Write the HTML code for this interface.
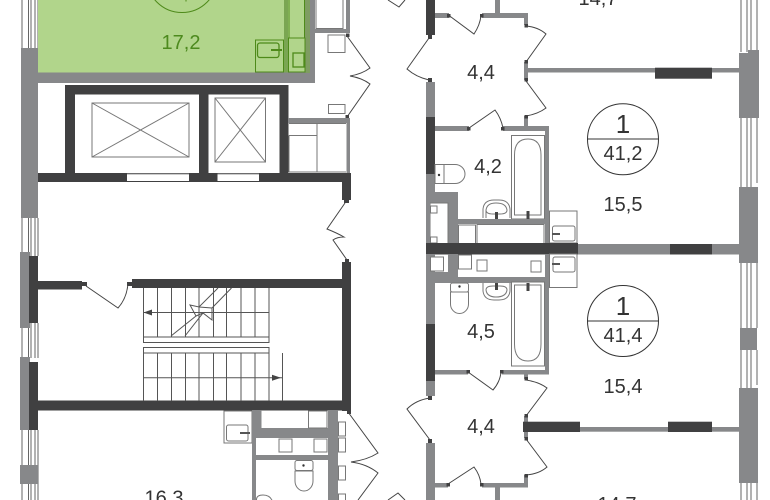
<!DOCTYPE html>
<html><head><meta charset="utf-8"><style>
html,body{margin:0;padding:0;background:#fff;width:770px;height:500px;overflow:hidden}
svg{display:block}
text{font-family:"Liberation Sans",sans-serif;font-size:20px;fill:#333;text-anchor:middle}
.g{fill:#87888a}.d{fill:#404041}
.l{fill:none;stroke:#444;stroke-width:1}
.w{fill:#fff;stroke:#777;stroke-width:1}
.t{fill:none;stroke:#777;stroke-width:1}
.gl{fill:none;stroke:#4e8a1a;stroke-width:1}
</style></head><body>
<svg width="770" height="500" viewBox="0 0 770 500" xmlns="http://www.w3.org/2000/svg">
<!-- left windows -->
<g stroke="#666" stroke-width="1">
<path d="M22 0V48M28.5 0V48M31 0V48M35 0V48M38 0V48"/>
<path d="M22 218V256M28.5 218V256M31 218V256M35 218V256M38 218V256"/>
<path d="M22 323V358M28.5 323V358M31 323V358M35 323V358M38 323V358"/>
<path d="M22 430V500M28.5 430V500M31 430V500M35 430V500M38 430V500"/>
</g>
<!-- right windows -->
<g stroke="#666" stroke-width="1">
<path d="M741 0V52M747 0V52M751 0V52M757 0V52"/>
<path d="M741 117V187M747 117V187M751 117V187M757 117V183"/>
<path d="M741 263V328M747 263V328M751 263V328M757 263V328"/>
<path d="M741 350V388M747 350V388M751 350V388M757 350V385"/>
<path d="M741 483V500M747 483V500M751 483V500M757 483V500"/>
</g>
<!-- left piers -->
<rect class="g" x="21" y="48" width="17" height="170"/>
<rect class="g" x="20" y="252" width="10" height="76"/>
<rect class="d" x="29" y="256" width="9" height="67"/>
<rect class="g" x="20" y="357" width="10" height="73"/>
<rect class="d" x="29" y="362" width="9" height="68"/>
<rect class="g" x="20" y="465" width="18" height="19"/>
<!-- right piers -->
<rect class="g" x="739" y="53" width="15" height="65"/><rect class="g" x="748" y="50" width="11" height="68"/>
<rect class="g" x="739" y="187" width="19" height="76"/>
<rect class="g" x="740" y="328" width="17" height="22"/>
<rect class="g" x="739" y="388" width="19" height="95"/>
<!-- green apartment -->
<rect x="38" y="0" width="267" height="72.5" fill="#b1d58b"/>
<rect x="38" y="72.5" width="277" height="10.5" class="g"/>
<rect x="310" y="0" width="5" height="83" class="g"/>
<rect x="305" y="0" width="5" height="73" fill="#7f9c62"/>
<rect x="284" y="0" width="4" height="72.5" fill="#7aa652"/>
<g class="gl">
<rect x="289" y="-2" width="15.500" height="40"/>
<rect x="288.500" y="38" width="16.500" height="34"/>
<rect x="293" y="53" width="11" height="14" stroke-width="1.300"/>
<rect x="255.500" y="40" width="28" height="32"/>
<rect x="257.500" y="43" width="21.500" height="14.500" rx="2.500" stroke-width="1.300"/>
<circle cx="182" cy="-23" r="35.500"/>
</g>
<path d="M271 50H282" stroke="#4e8a1a" stroke-width="2"/>
<path d="M186 0V1.500" stroke="#4e8a1a" stroke-width="1"/>
<text x="181" y="49" style="fill:#4d8a1e">17,2</text>
<!-- shaft top right -->
<rect class="g" x="315" y="29" width="35" height="4"/>
<rect class="g" x="346" y="0" width="4" height="33"/>
<rect class="w" x="316" y="-2" width="27" height="30.500" stroke-width="1.200"/>
<rect class="w" x="328" y="35" width="17" height="17.500"/>
<rect class="w" x="328.500" y="104.500" width="16.500" height="9"/>
<rect class="d" x="346" y="33.500" width="3.500" height="3.500"/>
<rect class="d" x="345.500" y="115" width="3.500" height="3.500"/>
<path class="l" d="M347 36L370 68Q362 74 350 76Q362 78 370 84L347 117"/>
<!-- lift shafts -->
<rect class="d" x="65" y="85" width="223" height="9.500"/>
<rect class="d" x="65" y="85" width="10" height="97"/>
<rect class="d" x="199" y="85" width="9.500" height="97"/>
<rect class="d" x="279.500" y="85" width="9" height="97"/>
<rect class="d" x="38" y="173" width="313" height="9"/>
<rect class="d" x="342" y="173" width="9" height="27"/>
<rect class="d" x="344" y="199" width="5" height="4"/>
<rect x="127" y="174" width="62" height="7" fill="#fff"/>
<rect x="217.500" y="174" width="41.500" height="7" fill="#fff"/>
<path d="M127 174H189M217.500 174H259" stroke="#999" stroke-width="1"/>
<g class="t" stroke="#666">
<rect x="92" y="103" width="97" height="54"/><path d="M92 103L189 157M189 103L92 157"/>
<rect x="215" y="98" width="50.500" height="64"/><path d="M215 98L265.500 162M265.500 98L215 162"/>
</g>
<!-- closet -->
<rect class="g" x="288" y="118" width="62" height="5"/>
<rect class="g" x="346.500" y="118" width="3.500" height="55"/>
<path class="t" d="M289 123.500H346M289 135.500H317M317 123.500V172M289 172H346M289 135.500V172"/>
<!-- door -->
<path class="l" d="M345 203L327 229Q337 233 344 237Q337 237 333 240L347 260"/>
<!-- stair hall walls -->
<rect class="d" x="132" y="279" width="215" height="9"/>
<rect class="d" x="38" y="281" width="44" height="8.500"/>
<rect class="d" x="82" y="282" width="5" height="4"/>
<rect class="d" x="127" y="282" width="5" height="4"/>
<rect class="d" x="342" y="262" width="9" height="149"/>
<rect class="d" x="345" y="259" width="4" height="4"/>
<rect class="d" x="29" y="400.500" width="322" height="10"/>
<rect class="d" x="347" y="410" width="4" height="4"/>
<path class="l" d="M86 286L118 308Q127 298 128 283"/>
<!-- stairs -->
<g stroke="#555" stroke-width="1" fill="none">
<path d="M143.500 288V337M157.500 288V337M171.500 288V337M185.500 288V337M199 288V337M213.500 288V337M226.500 288V337M241 288V337M255 288V337M269 288V337M143.500 312.500H269"/>
<rect x="143.500" y="337" width="125.500" height="5.500"/>
<rect x="143.500" y="347.500" width="125.500" height="5.500"/>
<path d="M143.500 353V401M157.500 353V401M171.500 353V401M185.500 353V401M199 353V401M213.500 353V401M226.500 353V401M241 353V401M255 353V401M269 353V401M143.500 377.700H282M282.500 353V401"/>
<path d="M218 288L199 307L190 305L196 316L171 336" />
<path d="M231.500 288L212 308L212 320L203 313L185 336"/>
<path d="M199 307L212 308M196 316L203 313" fill="#fff"/>
</g>
<path d="M143.500 312.500L152 309.500V315.500Z" fill="#444"/>
<path d="M281 377.700L272 374.700V380.700Z" fill="#444"/>
<!-- lower left wet unit -->
<rect class="t" x="224" y="411" width="28" height="32"/>
<rect class="t" x="226.500" y="425" width="21.500" height="16" rx="2"/>
<path d="M240 433H250" stroke="#555" stroke-width="2"/>
<rect class="g" x="252" y="410" width="9.500" height="28"/>
<rect class="g" x="252" y="438" width="4" height="62"/>
<rect class="g" x="328" y="410" width="10" height="90"/>
<rect class="g" x="252" y="428" width="76" height="10"/>
<rect class="g" x="256" y="455" width="72" height="5"/>
<g class="w" stroke="#666">
<rect x="308.500" y="411" width="18.500" height="17"/>
<rect x="279" y="439" width="13" height="13"/>
<rect x="314" y="439" width="13" height="13"/>
<rect x="338.500" y="422" width="7" height="14"/>
<rect x="338.500" y="438" width="7" height="14"/>
<rect x="338.500" y="466" width="7" height="14"/>
<rect x="338.500" y="494" width="7" height="10"/>
<rect x="295" y="460.500" width="18" height="10" rx="2"/>
<path d="M295 471H313V481A9 10 0 0 1 295 481Z"/>
<path d="M256.500 510V499Q257 495 263 495Q271 495 273 503"/>
</g>
<circle cx="303.500" cy="465.500" r="1.200" fill="#333"/>
<path class="l" d="M348 412L378 453Q367 460 351 462Q367 464 378 473L358 500"/>
<text x="164" y="504.500">16,3</text>
<!-- central corridor doors -->
<path class="l" d="M388 0L399 7L405 0"/>
<path class="l" d="M388 500L398 493L405 500"/>
<!-- central walls top -->
<rect class="d" x="426" y="0" width="9" height="35"/>
<rect class="d" x="428" y="35" width="4" height="4"/>
<rect class="g" x="426" y="82" width="9" height="35"/>
<rect class="d" x="428" y="78" width="4" height="4"/>
<rect class="d" x="426" y="117" width="9" height="57"/>
<rect class="g" x="426" y="174" width="9" height="70"/>
<rect class="g" x="435" y="13" width="14" height="5"/>
<rect class="g" x="482" y="13" width="46" height="5"/>
<rect class="g" x="495" y="0" width="5" height="13"/>
<rect class="g" x="524" y="13" width="4" height="12"/>
<rect class="d" x="447" y="14" width="3.500" height="3.500"/>
<rect class="d" x="480" y="14" width="3.500" height="3.500"/>
<rect class="d" x="524.500" y="24" width="3.500" height="3.500"/>
<path class="l" d="M449 15.500L474 34Q480 25 481 15.500"/>
<path class="l" d="M526 26Q538 27 546 34L526 62"/>
<rect class="g" x="524" y="62" width="4" height="18"/>
<rect class="d" x="524.500" y="60" width="3.500" height="3.500"/>
<rect class="d" x="524.500" y="78" width="3.500" height="3.500"/>
<rect class="g" x="528" y="68" width="212" height="4.500"/>
<rect class="d" x="655" y="67.700" width="57" height="11"/>
<path class="l" d="M526 81L546 108Q538 114 526 116"/>
<path class="l" d="M429 38L407 69Q416 77 429 80"/>
<rect class="g" x="524" y="116" width="4" height="10"/>
<rect class="d" x="524.500" y="115" width="3.500" height="3.500"/>
<rect class="g" x="435" y="126" width="34" height="5"/>
<rect class="g" x="503" y="126" width="46" height="5"/>
<rect class="d" x="467" y="127" width="3.500" height="3.500"/>
<rect class="d" x="501" y="127" width="3.500" height="3.500"/>
<path class="l" d="M469 128L495 110Q501 118 503 128"/>
<rect class="g" x="545" y="126" width="4" height="119"/>
<!-- upper bath -->
<rect class="w" x="511.500" y="135.500" width="33" height="83.500" stroke="#666"/>
<path class="t" d="M514.500 215V155Q514.500 139 528 139Q541 139 541 155V215Z" stroke="#666"/>
<rect x="526.500" y="211" width="3" height="8" fill="#444"/>
<!-- upper toilet -->
<g class="w" stroke="#666">
<path d="M435 164.500H444V183.500H435Z"/>
<path d="M444 164.500H455A10 9.500 0 0 1 455 183.500H444Z"/>
</g>
<circle cx="439" cy="175" r="1.200" fill="#333"/>
<!-- upper basin -->
<path class="t" d="M483 218V209Q484 200 494 200H499Q509 200 510 209V218" stroke="#666"/>
<path class="t" d="M486 218V210Q487 203 496 203Q506 203 507 210Q507 214 500 214H493Q486 214 486 210" stroke="#666"/>
<rect x="495" y="212" width="3" height="7" fill="#444"/>
<!-- lower upper block -->
<rect class="g" x="435" y="192" width="23" height="11"/>
<rect class="g" x="448" y="192" width="10" height="52"/>
<rect class="g" x="458" y="219" width="91" height="5"/>
<rect class="w" x="430" y="203" width="18" height="41" stroke="#fff"/>
<rect class="g" x="426" y="174" width="4" height="70"/>
<g class="w" stroke="#666">
<rect x="430.500" y="206" width="6.500" height="7"/>
<rect x="430.500" y="237" width="6.500" height="6"/>
<rect x="458.500" y="225" width="17" height="19"/>
<rect x="477" y="224.500" width="67" height="19"/>
<rect x="549.500" y="211" width="27.500" height="32"/>
<rect x="552.500" y="226" width="22.500" height="15" rx="2"/>
</g>
<path d="M552 234H560" stroke="#555" stroke-width="2"/>
<!-- central band -->
<rect class="g" x="578" y="244" width="162" height="10.500"/>
<rect class="d" x="670" y="244" width="42" height="10.500"/>
<rect class="d" x="426" y="243" width="152" height="11.500"/>
<!-- below band -->
<rect class="g" x="426" y="254" width="9" height="70"/>
<rect class="g" x="426" y="272" width="32" height="11"/>
<rect class="g" x="448" y="254" width="10" height="29"/>
<rect class="g" x="458" y="277" width="91" height="6"/>
<rect class="g" x="545" y="254" width="4" height="119"/>
<g class="w" stroke="#666">
<rect x="430.500" y="257" width="13" height="14"/>
<rect x="458.500" y="255" width="13" height="14"/>
<rect x="477" y="260" width="10" height="11"/>
<rect x="531" y="261" width="10" height="11"/>
<rect x="549.500" y="254" width="27.500" height="33.500"/>
<rect x="553" y="257" width="22" height="15" rx="2"/>
<rect x="450.500" y="283" width="18" height="9" rx="2"/>
<path d="M450.500 292H468.500V304A9 9.500 0 0 1 450.500 304Z"/>
<rect x="511.500" y="282" width="33" height="84"/>
</g>
<path d="M552 264H560" stroke="#555" stroke-width="2"/>
<circle cx="459.500" cy="286.500" r="1.200" fill="#333"/>
<path class="t" d="M514.500 285V344Q514.500 361 528 361Q541 361 541 344V285Z" stroke="#666"/>
<rect x="526.500" y="283" width="3" height="8" fill="#444"/>
<path class="t" d="M483 283V291Q484 300 494 300H499Q509 300 510 291V283" stroke="#666"/>
<path class="t" d="M486 290Q487 297 496 297Q506 297 507 290Q507 286 500 286H493Q486 286 486 290" stroke="#666"/>
<rect x="495" y="283" width="3" height="7" fill="#444"/>
<!-- lower apt walls -->
<rect class="d" x="426" y="324" width="9" height="57"/>
<rect class="g" x="426" y="381" width="9" height="15"/>
<rect class="d" x="428" y="396" width="4" height="4"/>
<rect class="g" x="435" y="370" width="33" height="4.500"/>
<rect class="g" x="502" y="370" width="47" height="4.500"/>
<rect class="d" x="466.500" y="370" width="3.500" height="3.500"/>
<rect class="d" x="500" y="370" width="3.500" height="3.500"/>
<path class="l" d="M468 372L493 390Q500 382 501 372"/>
<rect class="g" x="524" y="374" width="4" height="5"/>
<rect class="d" x="524.500" y="377" width="3.500" height="3.500"/>
<path class="l" d="M526 380Q539 382 547 388L526 416"/>
<path class="l" d="M430 398Q416 400 407 409L430 440"/>
<rect class="g" x="524" y="416" width="4" height="22"/>
<rect class="d" x="524.500" y="414" width="3.500" height="3.500"/>
<rect class="d" x="524.500" y="437" width="3.500" height="3.500"/>
<rect class="g" x="580" y="427" width="160" height="4.700"/>
<rect class="d" x="523" y="421.700" width="57" height="10.300"/>
<rect class="d" x="668" y="421.700" width="44" height="10.300"/>
<path class="l" d="M526 439L547 467Q539 474 526 475"/>
<rect class="g" x="524" y="475" width="4" height="12"/>
<rect class="d" x="524.500" y="474" width="3.500" height="3.500"/>
<rect class="g" x="482" y="483" width="46" height="4.500"/>
<rect class="g" x="435" y="483" width="13" height="4.500"/>
<rect class="d" x="446.500" y="483" width="3.500" height="3.500"/>
<rect class="d" x="480" y="483" width="3.500" height="3.500"/>
<path class="l" d="M448 484L474 467Q480 475 481 484"/>
<rect class="g" x="495" y="487" width="5" height="13"/>
<rect class="g" x="426" y="443" width="9" height="57"/>
<rect class="d" x="428" y="439" width="4" height="4"/>
<!-- circles -->
<g fill="#fff" stroke="#333" stroke-width="1">
<circle cx="623" cy="139.300" r="35.500"/><path d="M587.500 139H658.500"/>
<circle cx="623" cy="321" r="35.500"/><path d="M587.500 321H658.500"/>
</g>
<text x="623" y="133" style="font-size:26px">1</text>
<text x="623" y="160">41,2</text>
<text x="623" y="315" style="font-size:26px">1</text>
<text x="623" y="342">41,4</text>
<!-- labels -->
<text x="598" y="5">14,7</text>
<text x="481" y="79">4,4</text>
<text x="488" y="173">4,2</text>
<text x="623" y="211">15,5</text>
<text x="481" y="338">4,5</text>
<text x="623" y="393">15,4</text>
<text x="481" y="433">4,4</text>
<text x="617" y="511">14,7</text>
</svg>
</body></html>
